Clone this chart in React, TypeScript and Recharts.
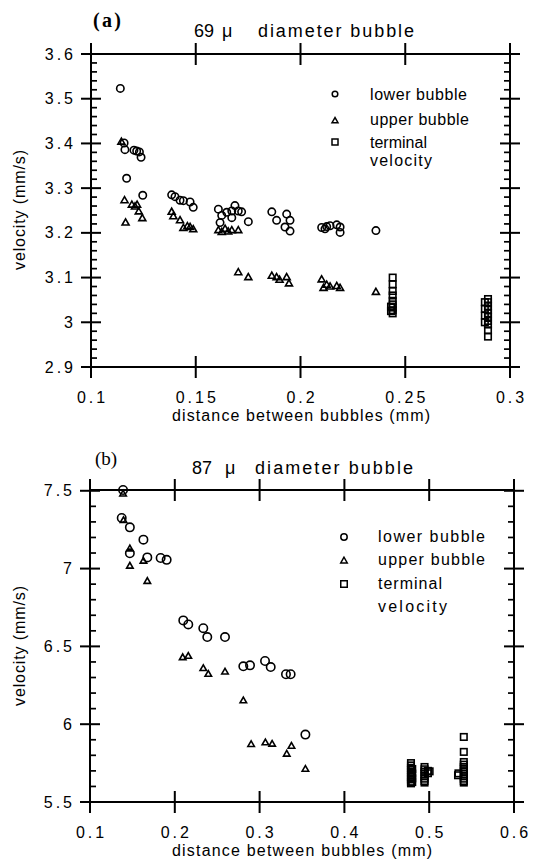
import React from 'react';
import { ScatterChart, Scatter, XAxis, YAxis } from 'recharts';

type Pt = { x: number; y: number };
const toPts = (rows: number[][]): Pt[] => rows.map(([x, y]) => ({ x, y }));

// ---------- panel (a): 69 micron bubble ----------
const lowerA = toPts([
  [0.1140, 3.523], [0.1158, 3.401], [0.1162, 3.386], [0.1205, 3.385], [0.1218, 3.383],
  [0.1231, 3.381], [0.1239, 3.369], [0.1170, 3.322], [0.1247, 3.284],
  [0.1385, 3.285], [0.1401, 3.281], [0.1425, 3.273], [0.1441, 3.272], [0.1473, 3.269], [0.1488, 3.257],
  [0.1608, 3.253], [0.1616, 3.223], [0.1624, 3.239], [0.1648, 3.246], [0.1672, 3.249], [0.1672, 3.234],
  [0.1687, 3.261], [0.1703, 3.249], [0.1719, 3.247], [0.1751, 3.225],
  [0.1863, 3.247], [0.1886, 3.228], [0.1926, 3.213], [0.1934, 3.242], [0.1950, 3.228], [0.1950, 3.204],
  [0.2101, 3.212], [0.2117, 3.209], [0.2125, 3.214], [0.2141, 3.216], [0.2173, 3.218], [0.2189, 3.201],
  [0.2189, 3.213], [0.2360, 3.205],
]);
const upperA = toPts([
  [0.1145, 3.403], [0.1160, 3.272], [0.1165, 3.222], [0.1195, 3.262], [0.1210, 3.258], [0.1220, 3.262],
  [0.1228, 3.247], [0.1245, 3.232],
  [0.1385, 3.246], [0.1393, 3.236], [0.1425, 3.227], [0.1441, 3.210], [0.1460, 3.214], [0.1473, 3.212], [0.1488, 3.207],
  [0.1608, 3.205], [0.1624, 3.201], [0.1640, 3.208], [0.1655, 3.202], [0.1672, 3.205], [0.1703, 3.205],
  [0.1703, 3.111], [0.1751, 3.100],
  [0.1863, 3.103], [0.1886, 3.100], [0.1900, 3.094], [0.1934, 3.100], [0.1945, 3.086],
  [0.2101, 3.095], [0.2110, 3.076], [0.2125, 3.083], [0.2141, 3.079], [0.2173, 3.080], [0.2189, 3.076],
  [0.2360, 3.067],
]);
const terminalA = toPts([
  [0.2440, 3.100], [0.2440, 3.085], [0.2440, 3.070], [0.2440, 3.060], [0.2440, 3.048], [0.2440, 3.040],
  [0.2440, 3.033], [0.2440, 3.027], [0.2440, 3.020], [0.2432, 3.035], [0.2432, 3.025],
  [0.2895, 3.052], [0.2895, 3.045], [0.2895, 3.036], [0.2895, 3.028], [0.2895, 3.020], [0.2895, 3.012],
  [0.2895, 3.003], [0.2895, 2.995], [0.2895, 2.982], [0.2895, 2.968],
  [0.2880, 3.045], [0.2880, 3.030], [0.2880, 3.015], [0.2880, 3.000],
]);
const xTicksA = [0.1, 0.15, 0.2, 0.25, 0.3];
const xLabelsA = ['0.1', '0.15', '0.2', '0.25', '0.3'];
const yMajorA = [2.9, 3, 3.1, 3.2, 3.3, 3.4, 3.5, 3.6];
const yLabelsA = ['2.9', '3', '3.1', '3.2', '3.3', '3.4', '3.5', '3.6'];
const xDomainA: [number, number] = [0.1, 0.3];
const yDomainA: [number, number] = [2.9, 3.6];

// ---------- panel (b): 87 micron bubble ----------
const lowerB = toPts([
  [0.1390, 7.505], [0.1374, 7.325], [0.1470, 7.265], [0.1630, 7.186], [0.1470, 7.098], [0.1676, 7.072],
  [0.1833, 7.068], [0.1904, 7.056], [0.2100, 6.667], [0.2159, 6.641], [0.2336, 6.617], [0.2383, 6.560],
  [0.2592, 6.560], [0.2808, 6.372], [0.2887, 6.378], [0.3064, 6.406], [0.3131, 6.367], [0.3311, 6.321],
  [0.3366, 6.321], [0.3540, 5.933],
]);
const upperB = toPts([
  [0.1390, 7.479], [0.1395, 7.308], [0.1470, 7.126], [0.1470, 7.015], [0.1630, 7.047], [0.1676, 6.917],
  [0.2093, 6.427], [0.2159, 6.436], [0.2336, 6.357], [0.2395, 6.320], [0.2592, 6.335], [0.2808, 6.150],
  [0.2900, 5.869], [0.3068, 5.880], [0.3148, 5.871], [0.3320, 5.807], [0.3376, 5.858], [0.3540, 5.710],
]);
const terminalB = toPts([
  [0.4785, 5.750], [0.4785, 5.735], [0.4785, 5.720], [0.4785, 5.705], [0.4785, 5.690], [0.4785, 5.675],
  [0.4785, 5.660], [0.4785, 5.645], [0.4785, 5.630], [0.4785, 5.620],
  [0.4800, 5.712], [0.4800, 5.682], [0.4800, 5.652], [0.4800, 5.628],
  [0.4945, 5.725], [0.4945, 5.710], [0.4945, 5.695], [0.4945, 5.680], [0.4945, 5.665], [0.4945, 5.650],
  [0.4945, 5.635], [0.4945, 5.625], [0.4985, 5.700], [0.4985, 5.685], [0.5005, 5.697],
  [0.5408, 5.918], [0.5408, 5.822], [0.5408, 5.757], [0.5408, 5.740], [0.5408, 5.725], [0.5408, 5.710],
  [0.5408, 5.695], [0.5408, 5.680], [0.5408, 5.665], [0.5408, 5.650], [0.5408, 5.635], [0.5408, 5.625],
  [0.5340, 5.672], [0.5345, 5.684],
]);
const xTicksB = [0.1, 0.2, 0.3, 0.4, 0.5, 0.6];
const xLabelsB = ['0.1', '0.2', '0.3', '0.4', '0.5', '0.6'];
const yMajorB = [5.5, 6, 6.5, 7, 7.5];
const yLabelsB = ['5.5', '6', '6.5', '7', '7.5'];
const xDomainB: [number, number] = [0.1, 0.6];
const yDomainB: [number, number] = [5.5, 7.5];

const legendNames = ['lower bubble', 'upper bubble', 'terminal', 'velocity'];

// ---------- drawing helpers ----------
const INK = '#000';
const SANS = '"Liberation Sans", Arial, Helvetica, sans-serif';
const SERIF = '"Liberation Serif", "Times New Roman", serif';
const LW = 2;

function minorsBetween(majors: number[], perMajor: number): number[] {
  const out: number[] = [];
  for (let i = 0; i < majors.length - 1; i++) {
    const step = (majors[i + 1] - majors[i]) / perMajor;
    for (let k = 1; k < perMajor; k++) out.push(Math.round((majors[i] + k * step) * 10000) / 10000);
  }
  return out;
}

// axis tick labels (the marks themselves are drawn by the frame series below)
function makeYLabel(majors: number[], labels: string[]) {
  return (props: any) => {
    const x = Number(props.x);
    const y = Number(props.y);
    const idx = majors.findIndex((m) => Math.abs(m - props.payload.value) < 1e-6);
    return (
      <text x={x - 15} y={y + 5.5} textAnchor="end" fontFamily={SANS} fontSize={16} letterSpacing={3} fill={INK}>
        {idx >= 0 ? labels[idx] : ''}
      </text>
    );
  };
}
function makeXLabel(majors: number[], labels: string[]) {
  return (props: any) => {
    const x = Number(props.x);
    const y = Number(props.y);
    const idx = majors.findIndex((m) => Math.abs(m - props.payload.value) < 1e-6);
    return (
      <text x={x + 1.5} y={y + 36} textAnchor="middle" fontFamily={SANS} fontSize={16} letterSpacing={3} fill={INK}>
        {idx >= 0 ? labels[idx] : ''}
      </text>
    );
  };
}

// frame and tick marks, positioned through the chart scales
const frameShape = (w: number, h: number) => (p: any) => (
  <rect x={p.cx} y={p.cy - h} width={w} height={h} fill="none" stroke={INK} strokeWidth={LW} />
);
const xMarkShape = (h: number) => (p: any) => (
  <g>
    <rect x={p.cx - LW / 2} y={p.cy - 11} width={LW} height={22} fill={INK} />
    <rect x={p.cx - LW / 2} y={p.cy - h - 11} width={LW} height={22} fill={INK} />
  </g>
);
const yMajorShape = (w: number) => (p: any) => (
  <g>
    <rect x={p.cx - 10} y={p.cy - LW / 2} width={20} height={LW} fill={INK} />
    <rect x={p.cx + w - 10} y={p.cy - LW / 2} width={20} height={LW} fill={INK} />
  </g>
);
const yMinorShape = (w: number) => (p: any) => (
  <g>
    <rect x={p.cx} y={p.cy - 0.85} width={6} height={1.7} fill={INK} />
    <rect x={p.cx + w - 6} y={p.cy - 0.85} width={6} height={1.7} fill={INK} />
  </g>
);

const circleShape = (r: number) => (p: any) => (
  <circle cx={p.cx} cy={p.cy} r={r} fill="none" stroke={INK} strokeWidth={1.6} />
);
const triangleShape = (s: number) => (p: any) => {
  const h = s * 0.87;
  const pts = `${p.cx},${p.cy - (2 * h) / 3} ${p.cx - s / 2},${p.cy + h / 3} ${p.cx + s / 2},${p.cy + h / 3}`;
  return <polygon points={pts} fill="none" stroke={INK} strokeWidth={1.6} />;
};
const squareShape = (s: number) => (p: any) => (
  <rect x={p.cx - s / 2} y={p.cy - s / 2} width={s} height={s} fill="none" stroke={INK} strokeWidth={1.6} />
);

// ---------- fixed layout ----------
const PLOT_W_A = 419;
const PLOT_H_A = 313;
const PLOT_W_B = 424;
const PLOT_H_B = 312;
const marginA = { top: 54, right: 25, left: 0, bottom: 0 };
const marginB = { top: 60, right: 21, left: 0, bottom: 0 };

const cornerA = [{ x: xDomainA[0], y: yDomainA[0] }];
const cornerB = [{ x: xDomainB[0], y: yDomainB[0] }];
const xMarksA = xTicksA.map((x) => ({ x, y: yDomainA[0] }));
const xMarksB = xTicksB.map((x) => ({ x, y: yDomainB[0] }));
const yMajorMarksA = yMajorA.map((y) => ({ x: xDomainA[0], y }));
const yMajorMarksB = yMajorB.map((y) => ({ x: xDomainB[0], y }));
const yMinorMarksA = minorsBetween(yMajorA, 5).map((y) => ({ x: xDomainA[0], y }));
const yMinorMarksB = minorsBetween(yMajorB, 5).map((y) => ({ x: xDomainB[0], y }));

const yLabelA = makeYLabel(yMajorA, yLabelsA);
const yLabelB = makeYLabel(yMajorB, yLabelsB);
const xLabelA = makeXLabel(xTicksA, xLabelsA);
const xLabelB = makeXLabel(xTicksB, xLabelsB);
const frameA = frameShape(PLOT_W_A, PLOT_H_A);
const frameB = frameShape(PLOT_W_B, PLOT_H_B);
const xMarkA = xMarkShape(PLOT_H_A);
const xMarkB = xMarkShape(PLOT_H_B);
const yMajA = yMajorShape(PLOT_W_A);
const yMajB = yMajorShape(PLOT_W_B);
const yMinA = yMinorShape(PLOT_W_A);
const yMinB = yMinorShape(PLOT_W_B);
const circleA = circleShape(3.7);
const triangleA = triangleShape(7);
const squareA = squareShape(6.5);
const circleB = circleShape(4.2);
const triangleB = triangleShape(6.5);
const squareB = squareShape(6.5);

// small caption canvas placed in page coordinates
function Caption({ left, top, width, height, children }: { left: number; top: number; width: number; height: number; children: React.ReactNode }) {
  return (
    <svg width={width} height={height} viewBox={`${left} ${top} ${width} ${height}`}
      style={{ position: 'absolute', left, top, pointerEvents: 'none' }}>
      {children}
    </svg>
  );
}

type LegendProps = { mx: number; my: number[]; tx: number; ty: number[]; widths: number[]; r: number; s: number };
function LegendBlock({ mx, my, tx, ty, widths, r, s }: LegendProps) {
  const h = s * 0.87;
  return (
    <g>
      <circle cx={mx} cy={my[0]} r={r} fill="none" stroke={INK} strokeWidth={1.5} />
      <polygon
        points={`${mx},${my[1] - (2 * h) / 3} ${mx - s / 2},${my[1] + h / 3} ${mx + s / 2},${my[1] + h / 3}`}
        fill="none"
        stroke={INK}
        strokeWidth={1.5}
      />
      <rect x={mx - s / 2} y={my[2] - s / 2} width={s} height={s} fill="none" stroke={INK} strokeWidth={1.5} />
      {legendNames.map((name, i) => (
        <text key={name} x={tx} y={ty[i]} fontFamily={SANS} fontSize={16} fill={INK} textLength={widths[i]} lengthAdjust="spacing">
          {name}
        </text>
      ))}
    </g>
  );
}

export default function App() {
  return (
    <div style={{ position: 'absolute', left: 0, top: 0, width: 535, height: 861, background: '#fff' }}>
      <div style={{ position: 'absolute', left: 0, top: 0 }}>
        <ScatterChart width={535} height={430} margin={marginA}>
          <XAxis type="number" dataKey="x" domain={xDomainA} ticks={xTicksA} interval={0} height={63}
            axisLine={false} tickLine={false} tickSize={0} tickMargin={0} tick={xLabelA} />
          <YAxis type="number" dataKey="y" domain={yDomainA} ticks={yMajorA} interval={0} width={91}
            axisLine={false} tickLine={false} tickSize={0} tickMargin={0} tick={yLabelA} />
          <Scatter data={cornerA} shape={frameA} legendType="none" isAnimationActive={false} />
          <Scatter data={xMarksA} shape={xMarkA} legendType="none" isAnimationActive={false} />
          <Scatter data={yMajorMarksA} shape={yMajA} legendType="none" isAnimationActive={false} />
          <Scatter data={yMinorMarksA} shape={yMinA} legendType="none" isAnimationActive={false} />
          <Scatter name="lower bubble" data={lowerA} shape={circleA} isAnimationActive={false} />
          <Scatter name="upper bubble" data={upperA} shape={triangleA} isAnimationActive={false} />
          <Scatter name="terminal velocity" data={terminalA} shape={squareA} isAnimationActive={false} />
        </ScatterChart>
      </div>
      <div style={{ position: 'absolute', left: 0, top: 430 }}>
        <ScatterChart width={535} height={431} margin={marginB}>
          <XAxis type="number" dataKey="x" domain={xDomainB} ticks={xTicksB} interval={0} height={59}
            axisLine={false} tickLine={false} tickSize={0} tickMargin={0} tick={xLabelB} />
          <YAxis type="number" dataKey="y" domain={yDomainB} ticks={yMajorB} interval={0} width={90}
            axisLine={false} tickLine={false} tickSize={0} tickMargin={0} tick={yLabelB} />
          <Scatter data={cornerB} shape={frameB} legendType="none" isAnimationActive={false} />
          <Scatter data={xMarksB} shape={xMarkB} legendType="none" isAnimationActive={false} />
          <Scatter data={yMajorMarksB} shape={yMajB} legendType="none" isAnimationActive={false} />
          <Scatter data={yMinorMarksB} shape={yMinB} legendType="none" isAnimationActive={false} />
          <Scatter name="lower bubble" data={lowerB} shape={circleB} isAnimationActive={false} />
          <Scatter name="upper bubble" data={upperB} shape={triangleB} isAnimationActive={false} />
          <Scatter name="terminal velocity" data={terminalB} shape={squareB} isAnimationActive={false} />
        </ScatterChart>
      </div>

      {/* panel (a) captions */}
      <Caption left={80} top={0} width={360} height={42}>
        <text x={93} y={27} fontFamily={SERIF} fontSize={20} fontWeight="bold" fill={INK} textLength={28} lengthAdjust="spacing">(a)</text>
        <text y={37} fontFamily={SANS} fontSize={18} fill={INK}>
          <tspan x={194}>69</tspan>
          <tspan x={222}>μ</tspan>
          <tspan x={258} textLength={156} lengthAdjust="spacing">diameter bubble</tspan>
        </text>
      </Caption>
      <Caption left={150} top={406} width={300} height={22}>
        <text x={301} y={421} textAnchor="middle" fontFamily={SANS} fontSize={16} fill={INK} textLength={258} lengthAdjust="spacing">
          distance between bubbles (mm)
        </text>
      </Caption>
      <Caption left={0} top={130} width={32} height={160}>
        <text transform="translate(25,210) rotate(-90)" textAnchor="middle" fontFamily={SANS} fontSize={16} fill={INK} textLength={120} lengthAdjust="spacing">
          velocity (mm/s)
        </text>
      </Caption>
      <Caption left={325} top={84} width={160} height={90}>
        <LegendBlock mx={335} my={[94, 121, 142]} tx={370} ty={[100, 125, 148, 166]} widths={[97, 99, 57, 62]} r={2.8} s={6} />
      </Caption>

      {/* panel (b) captions */}
      <Caption left={80} top={444} width={360} height={34}>
        <text x={95} y={465} fontFamily={SERIF} fontSize={19} fill={INK} textLength={22} lengthAdjust="spacing">(b)</text>
        <text y={474} fontFamily={SANS} fontSize={18} fill={INK}>
          <tspan x={192}>87</tspan>
          <tspan x={225}>μ</tspan>
          <tspan x={255} textLength={158} lengthAdjust="spacing">diameter bubble</tspan>
        </text>
      </Caption>
      <Caption left={150} top={840} width={300} height={21}>
        <text x={302} y={856} textAnchor="middle" fontFamily={SANS} fontSize={16} fill={INK} textLength={260} lengthAdjust="spacing">
          distance between bubbles (mm)
        </text>
      </Caption>
      <Caption left={0} top={566} width={32} height={160}>
        <text transform="translate(25,646) rotate(-90)" textAnchor="middle" fontFamily={SANS} fontSize={16} fill={INK} textLength={120} lengthAdjust="spacing">
          velocity (mm/s)
        </text>
      </Caption>
      <Caption left={335} top={526} width={160} height={92}>
        <LegendBlock mx={344} my={[537, 561, 584]} tx={378} ty={[542, 565, 589, 612]} widths={[107, 107, 64, 69]} r={3.2} s={6.5} />
      </Caption>
    </div>
  );
}
